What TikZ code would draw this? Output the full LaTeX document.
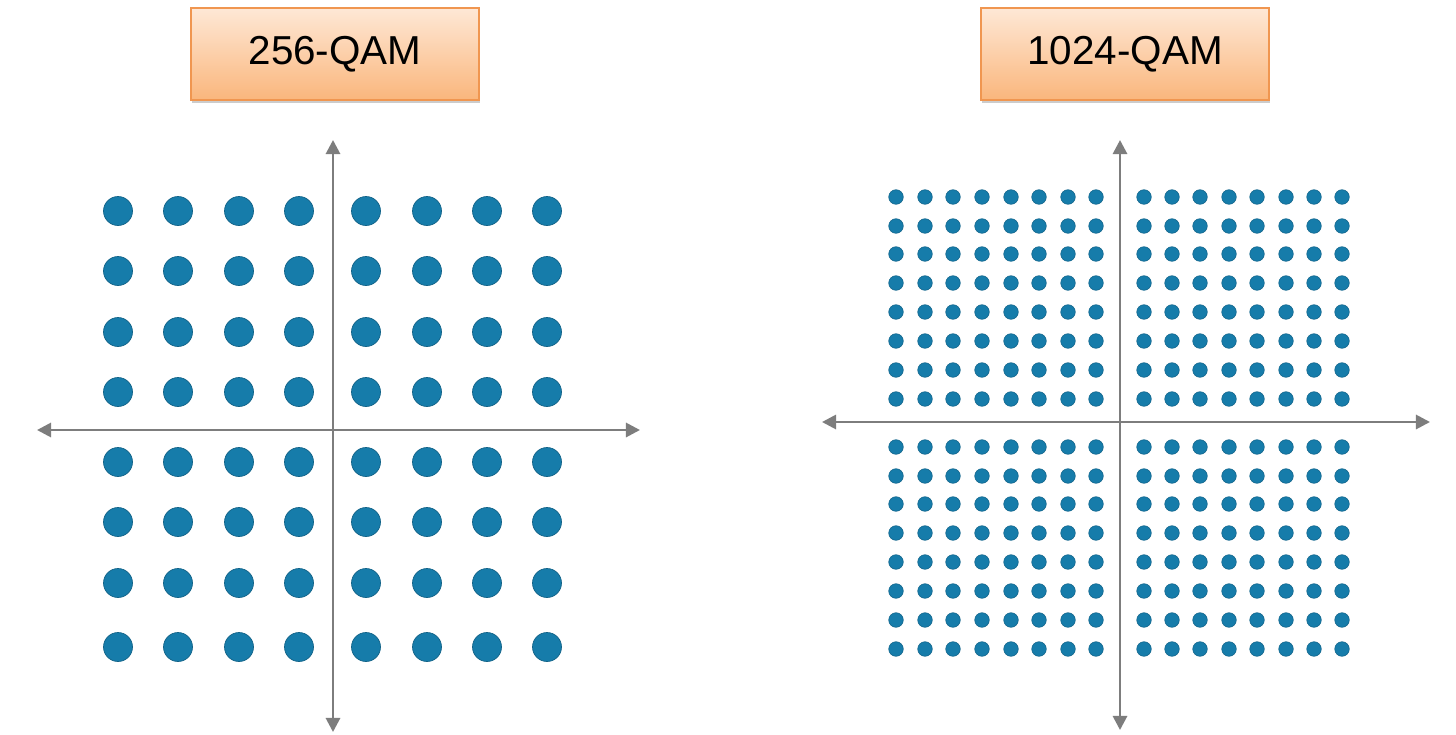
\documentclass[tikz,border=0pt]{standalone}
\usepackage{fontspec}
\setmainfont{Liberation Sans}
\usepackage{xcolor}
\usetikzlibrary{arrows.meta,shadows}
\definecolor{dotblue}{RGB}{22,124,170}
\definecolor{axisgray}{RGB}{125,125,125}
\definecolor{tagorange}{RGB}{240,150,80}
\definecolor{tagtop}{RGB}{254,232,214}
\definecolor{tagbottom}{RGB}{250,182,124}

\begin{document}
\begin{tikzpicture}[x=0.02cm, y=-0.02cm,
		tag/.style={draw=tagorange, line width=0.8pt, minimum width=5.76cm,
					minimum height=1.84cm, top color=tagtop, bottom color=tagbottom,
					drop shadow={shadow xshift=0.8pt, shadow yshift=-1.6pt, opacity=0.4},
					font=\fontsize{23}{27}\selectfont},
		axis/.style={{Triangle[length=8pt,width=8pt]}-{Triangle[length=8pt,width=8pt]},
					 draw=axisgray, line width=1.6pt},
		bigdot/.style={fill=dotblue, draw=dotblue!80!black, line width=0.4pt},
		smalldot/.style={fill=dotblue, draw=dotblue!80!black, line width=0.3pt}
	]
		\useasboundingbox[fill=white] (0,0) rectangle (1456,734);

		% labels
		\node[tag] (qam256) at (335,54) {256-QAM};
		\node[tag] (qam1024) at (1125,54) {1024-QAM};

		% 256-QAM constellation
		\coordinate (lw) at (37,430);
		\coordinate (le) at (640,430);
		\coordinate (ln) at (333,140);
		\coordinate (ls) at (333,732);
		\draw[axis] (lw) -- (le);
		\draw[axis] (ln) -- (ls);
		\foreach \x in {118,178,239,299,366,427,487,547}
			\foreach \y in {211,271,332,392,462,522,583,647}
				\fill[bigdot] (\x,\y) circle (14.5);

		% 1024-QAM constellation
		\coordinate (rw) at (822,422);
		\coordinate (re) at (1430,422);
		\coordinate (rn) at (1120,140);
		\coordinate (rs) at (1120,730);
		\draw[axis] (rw) -- (re);
		\draw[axis] (rn) -- (rs);
		\foreach \x in {896,925,953,982,1011,1039,1068,1096,1144,1172,1200,1229,1257,1286,1314,1342}
			\foreach \y in {197,226,254,283,312,341,370,399,447,476,504,533,562,591,620,649}
				\fill[smalldot] (\x,\y) circle (7.3);
	\end{tikzpicture}
\end{document}
